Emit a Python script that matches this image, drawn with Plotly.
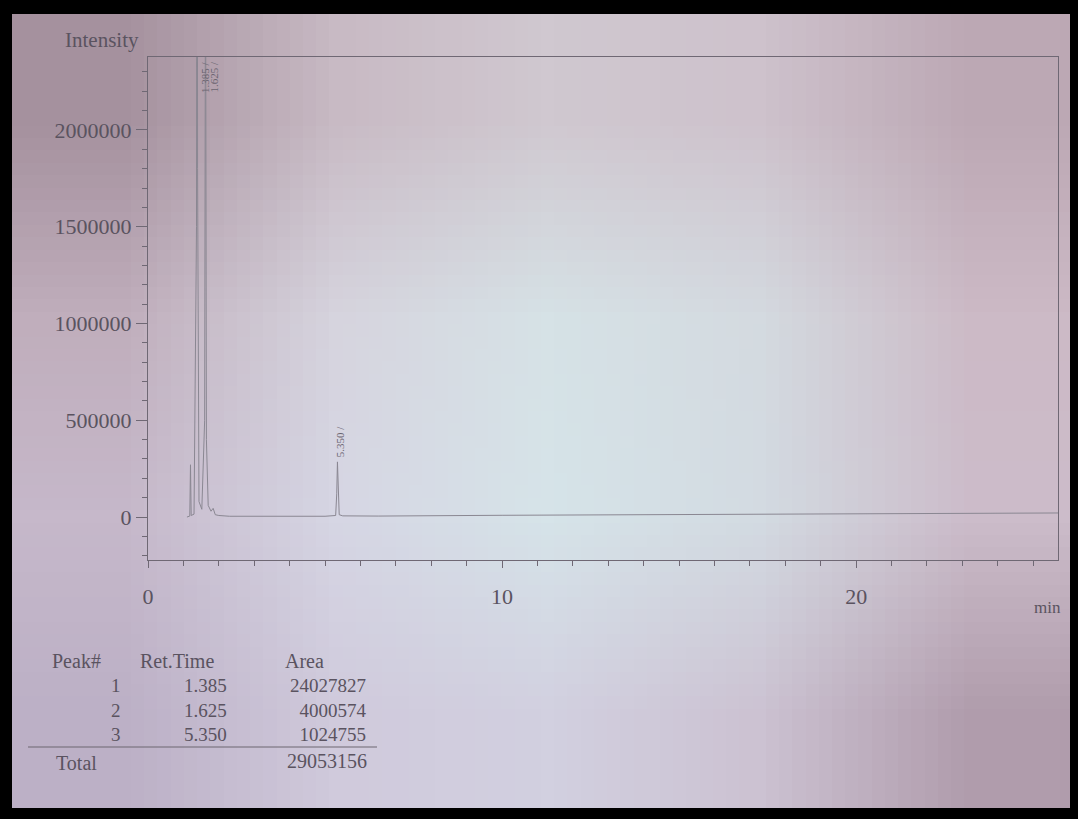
import base64
import struct
import zlib

import plotly.graph_objects as go

# ---------------- data ----------------
ret_time_min = [1.10, 1.18, 1.20, 1.22, 1.30, 1.37, 1.385, 1.40, 1.44, 1.52, 1.60,
                1.625, 1.65, 1.70, 1.78, 1.84, 1.90, 2.00, 2.30, 3.00, 5.00, 5.30,
                5.33, 5.35, 5.37, 5.40, 5.50, 6.50, 10.0, 15.0, 20.0, 25.7]
intensity = [0, 5000, 270000, 8000, 15000, 1500000, 6200000, 1800000, 80000, 40000, 500000,
             3100000, 400000, 60000, 30000, 45000, 12000, 8000, 4000, 3000, 4000, 8000,
             120000, 285000, 130000, 12000, 6000, 5000, 9000, 13000, 17000, 21000]

peak_labels = ["1.385 /", "1.625 /", "5.350 /"]
peak_label_x = [1.385, 1.625, 5.35]

table_peak = ["1", "2", "3"]
table_ret_time = ["1.385", "1.625", "5.350"]
table_area = ["24027827", "4000574", "1024755"]
table_total = "29053156"

x_range = [0, 25.7]
y_range = [-222000, 2377000]

# ---------------- layout geometry (pixels) ----------------
FIG_W, FIG_H = 1078, 819
L, R, T, B = 148, 1058, 57, 560
PW, PH = R - L, B - T


def xp(px):
    return (px - L) / PW


def yp(py):
    return (B - py) / PH


# soft photographic background (small colour grid, stretched & smoothed)
bg_grid = [
    [(165, 145, 158), (200, 186, 196), (208, 200, 208), (206, 194, 204), (188, 168, 180)],
    [(192, 174, 188), (214, 212, 222), (214, 226, 230), (212, 218, 224), (204, 186, 198)],
    [(198, 184, 202), (214, 214, 228), (214, 228, 233), (211, 219, 226), (204, 188, 202)],
    [(188, 176, 198), (208, 202, 220), (210, 208, 224), (204, 194, 210), (176, 156, 172)],
]


def png_uri(rows):
    h, w = len(rows), len(rows[0])
    raw = b"".join(b"\x00" + bytes(c for p in row for c in p) for row in rows)

    def chunk(tag, data):
        return (struct.pack(">I", len(data)) + tag + data
                + struct.pack(">I", zlib.crc32(tag + data) & 0xFFFFFFFF))

    png = (b"\x89PNG\r\n\x1a\n"
           + chunk(b"IHDR", struct.pack(">IIBBBBB", w, h, 8, 2, 0, 0, 0))
           + chunk(b"IDAT", zlib.compress(raw))
           + chunk(b"IEND", b""))
    return "data:image/png;base64," + base64.b64encode(png).decode()


INK = "#5a5360"
AXIS = "#6f6874"
SERIF = "Liberation Serif, Times New Roman, serif"

fig = go.Figure()
fig.add_trace(go.Scatter(
    x=ret_time_min, y=intensity, mode="lines",
    line=dict(color="#8a8792", width=1), hoverinfo="x+y",
))

annotations = []
# axis captions
annotations.append(dict(text="Intensity", xref="paper", yref="paper",
                        x=xp(63), y=yp(40), xanchor="left", yanchor="middle",
                        showarrow=False, font=dict(family=SERIF, size=21, color=INK)))
annotations.append(dict(text="min", xref="paper", yref="paper",
                        x=xp(1047), y=yp(607), xanchor="center", yanchor="middle",
                        showarrow=False, font=dict(family=SERIF, size=17, color=INK)))

# peak labels
for lab, xv in zip(peak_labels[:2], peak_label_x[:2]):
    annotations.append(dict(text=lab, x=xv, y=1, xref="x", yref="paper",
                            xanchor="center", yanchor="top", xshift=8, yshift=-2,
                            textangle=-90, showarrow=False,
                            font=dict(family=SERIF, size=11, color="#6a6470")))
pk3_height = intensity[ret_time_min.index(5.35)]
annotations.append(dict(text=peak_labels[2], x=peak_label_x[2], y=pk3_height,
                        xref="x", yref="y", xanchor="center", yanchor="bottom",
                        xshift=2, yshift=3, textangle=-90, showarrow=False,
                        font=dict(family=SERIF, size=11, color="#6a6470")))

# result table
TSIZE = 19
tfont = dict(family=SERIF, size=TSIZE, color=INK)
for text, px in [("Peak#", 50), ("Ret.Time", 138), ("Area", 283)]:
    annotations.append(dict(text=text, xref="paper", yref="paper", x=xp(px), y=yp(661),
                            xanchor="left", yanchor="middle", showarrow=False,
                            font=dict(family=SERIF, size=20, color=INK)))
# each column of the body as one multi-line block (right aligned)
for col, px in [(table_peak, 123), (table_ret_time, 229), (table_area, 369)]:
    annotations.append(dict(text="<br>".join(col), xref="paper", yref="paper",
                            x=xp(px), y=yp(710), xanchor="right", yanchor="middle",
                            align="right", showarrow=False, font=tfont))
annotations.append(dict(text="Total", xref="paper", yref="paper", x=xp(54), y=yp(763),
                        xanchor="left", yanchor="middle", showarrow=False,
                        font=dict(family=SERIF, size=20, color=INK)))
annotations.append(dict(text=table_total, xref="paper", yref="paper", x=xp(369), y=yp(761),
                        xanchor="right", yanchor="middle", showarrow=False,
                        font=dict(family=SERIF, size=20, color=INK)))

shapes = [dict(type="line", xref="paper", yref="paper", x0=xp(28), x1=xp(377),
               y0=yp(747), y1=yp(747), line=dict(color="#6c6670", width=1))]

fig.update_layout(
    width=FIG_W, height=FIG_H,
    margin=dict(l=L, r=FIG_W - R, t=T, b=FIG_H - B, pad=0),
    paper_bgcolor="#000000",
    plot_bgcolor="rgba(0,0,0,0)",
    showlegend=False,
    annotations=annotations,
    shapes=shapes,
    images=[dict(source=png_uri(bg_grid), xref="paper", yref="paper",
                 x=xp(12), y=yp(14), sizex=(1070 - 12) / PW, sizey=(808 - 14) / PH,
                 xanchor="left", yanchor="top", sizing="stretch", layer="below")],
    xaxis=dict(
        range=x_range, showgrid=False, zeroline=False,
        showline=True, linecolor=AXIS, linewidth=1, mirror=True,
        ticks="outside", ticklen=7, tickcolor=AXIS, tick0=0, dtick=10,
        ticklabelstandoff=10,
        minor=dict(ticks="outside", ticklen=5, dtick=1, tickcolor=AXIS),
        tickfont=dict(family=SERIF, size=22, color=INK),
    ),
    yaxis=dict(
        range=y_range, showgrid=False, zeroline=False,
        showline=True, linecolor=AXIS, linewidth=1, mirror=True,
        ticks="outside", ticklen=11, tickcolor=AXIS, tick0=0, dtick=500000,
        tickformat="d",
        minor=dict(ticks="outside", ticklen=5, dtick=100000, tickcolor=AXIS),
        tickfont=dict(family=SERIF, size=22, color=INK),
    ),
)

fig.write_html("out.html")
